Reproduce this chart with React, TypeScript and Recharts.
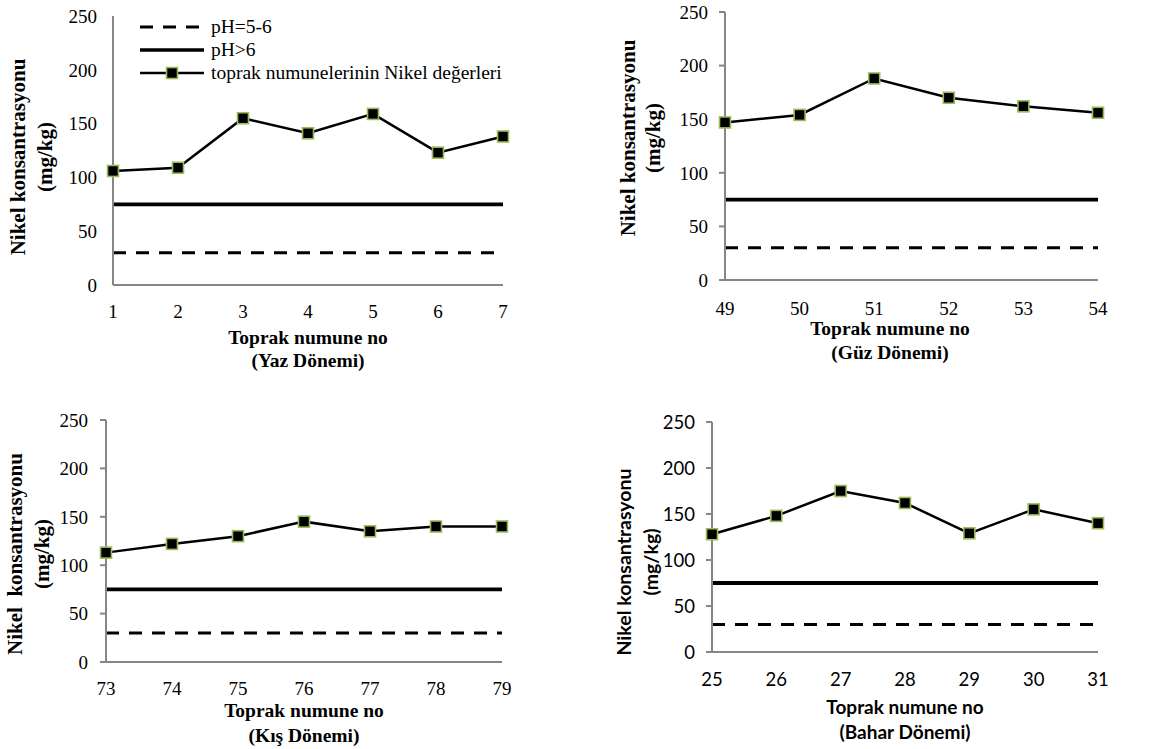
import { LineChart, Line, XAxis, YAxis } from "recharts";

// sample numbers per season
const YAZ_SAMPLES = [1, 2, 3, 4, 5, 6, 7];
const GUZ_SAMPLES = [49, 50, 51, 52, 53, 54];
const KIS_SAMPLES = [73, 74, 75, 76, 77, 78, 79];
const BAHAR_SAMPLES = [25, 26, 27, 28, 29, 30, 31];

// nickel values (mg/kg)
const YAZ_NIKEL = [106, 109, 155, 141, 159, 123, 138];
const GUZ_NIKEL = [147, 154, 188, 170, 162, 156];
const KIS_NIKEL = [113, 122, 130, 145, 135, 140, 140];
const BAHAR_NIKEL = [128, 148, 175, 162, 129, 155, 140];

// limit values
const PH_5_6_LIMIT = 30;
const PH_6_LIMIT = 75;

const Y_TICKS = [0, 50, 100, 150, 200, 250];

const LEGEND_LABELS = ["pH=5-6", "pH>6", "toprak numunelerinin Nikel değerleri"];

const AXIS_GRAY = "#868686";
const MARKER_GREEN = "#9BBB59";
const SERIF = '"Liberation Serif", Tinos, "Times New Roman", Times, "DejaVu Serif", serif';
const SANS = 'Lato, "Liberation Sans", sans-serif';

const buildRows = (samples: number[], values: number[]) =>
  samples.map((no, i) => ({ no, nikel: values[i], ph56: PH_5_6_LIMIT, ph6: PH_6_LIMIT }));

const SquareDot = (p: any) => {
  if (p.cx == null || p.cy == null) return <g key={`dot-${p.index}`} />;
  return (
    <rect
      key={`dot-${p.index}`}
      x={p.cx - 5.5}
      y={p.cy - 5.5}
      width={11}
      height={11}
      fill="#000"
      stroke={MARKER_GREEN}
      strokeWidth={1.6}
    />
  );
};

// legend drawn over the first panel, no space taken from the plot
const LegendBox = () => (
  <div
    style={{
      position: "absolute",
      left: 136,
      top: 15,
      fontFamily: SERIF,
      fontSize: 19.5,
      color: "#000",
      whiteSpace: "nowrap",
    }}
  >
    {LEGEND_LABELS.map((label, i) => (
      <div key={label} style={{ display: "flex", alignItems: "center", height: 23 }}>
        <svg width={72} height={16} style={{ marginRight: 3 }}>
          {i === 0 && <line x1={4} y1={8} x2={68} y2={8} stroke="#000" strokeWidth={3} strokeDasharray="13 10" />}
          {i === 1 && <line x1={4} y1={8} x2={68} y2={8} stroke="#000" strokeWidth={3.5} />}
          {i === 2 && (
            <>
              <line x1={4} y1={8} x2={68} y2={8} stroke="#000" strokeWidth={2.5} />
              <rect x={30.5} y={2.5} width={11} height={11} fill="#000" stroke={MARKER_GREEN} strokeWidth={1.6} />
            </>
          )}
        </svg>
        <span>{label}</span>
      </div>
    ))}
  </div>
);

type PanelCfg = {
  left: number;
  top: number;
  width: number;
  height: number;
  margin: { top: number; right: number; bottom: number; left: number };
  samples: number[];
  values: number[];
  font: string;
  tickFont: number;
  titleFont: number;
  yTitleFont: number;
  yTitle: string;
  yTitleX: [number, number];
  yTitleCY: number;
  xTitle: [string, string];
  xTitleCX: number;
  xTitleY: [number, number];
  yTickLine: boolean;
  yTickMargin: number;
  xTickMargin: number;
  legend?: boolean;
};

const PANELS: PanelCfg[] = [
  {
    left: 0, top: 0, width: 560, height: 375,
    margin: { top: 16, right: 57, bottom: 50, left: 53 },
    samples: YAZ_SAMPLES, values: YAZ_NIKEL,
    font: SERIF, tickFont: 19, titleFont: 19.5, yTitleFont: 21,
    yTitle: "Nikel konsantrasyonu", yTitleX: [18, 45], yTitleCY: 157,
    xTitle: ["Toprak numune no", "(Yaz Dönemi)"], xTitleCX: 308, xTitleY: [344, 367],
    yTickLine: false, yTickMargin: 10, xTickMargin: 20, legend: true,
  },
  {
    left: 590, top: 0, width: 567, height: 375,
    margin: { top: 12, right: 59, bottom: 55, left: 75 },
    samples: GUZ_SAMPLES, values: GUZ_NIKEL,
    font: SERIF, tickFont: 19, titleFont: 19.5, yTitleFont: 21,
    yTitle: "Nikel konsantrasyonu", yTitleX: [38, 63], yTitleCY: 138,
    xTitle: ["Toprak numune no", "(Güz Dönemi)"], xTitleCX: 300, xTitleY: [335, 359],
    yTickLine: true, yTickMargin: 11, xTickMargin: 22,
  },
  {
    left: 0, top: 380, width: 560, height: 369,
    margin: { top: 40, right: 58, bottom: 47, left: 46 },
    samples: KIS_SAMPLES, values: KIS_NIKEL,
    font: SERIF, tickFont: 19, titleFont: 19.5, yTitleFont: 21,
    yTitle: "Nikel  konsantrasyonu", yTitleX: [15, 42], yTitleCY: 174,
    xTitle: ["Toprak numune no", "(Kış Dönemi)"], xTitleCX: 304, xTitleY: [337, 362],
    yTickLine: true, yTickMargin: 12, xTickMargin: 20,
  },
  {
    left: 590, top: 380, width: 567, height: 369,
    margin: { top: 42, right: 59, bottom: 57, left: 62 },
    samples: BAHAR_SAMPLES, values: BAHAR_NIKEL,
    font: SANS, tickFont: 18.5, titleFont: 19, yTitleFont: 19.5,
    yTitle: "Nikel konsantrasyonu", yTitleX: [33, 60], yTitleCY: 182,
    xTitle: ["Toprak numune no", "(Bahar Dönemi)"], xTitleCX: 315, xTitleY: [334, 359],
    yTickLine: true, yTickMargin: 11, xTickMargin: 21,
  },
];

function Panel({ cfg }: { cfg: PanelCfg }) {
  const rows = buildRows(cfg.samples, cfg.values);
  const first = cfg.samples[0];
  const last = cfg.samples[cfg.samples.length - 1];
  const baseStyle = { fontFamily: cfg.font, fontWeight: 700, fill: "#000", whiteSpace: "pre" as const };

  const yTitle = () => {
    const [x1, x2] = cfg.yTitleX;
    const cy = cfg.yTitleCY;
    const st = { ...baseStyle, fontSize: cfg.yTitleFont };
    return (
      <g>
        <text x={x1} y={cy} transform={`rotate(-90, ${x1}, ${cy})`} textAnchor="middle" dominantBaseline="central" style={st}>
          {cfg.yTitle}
        </text>
        <text x={x2} y={cy} transform={`rotate(-90, ${x2}, ${cy})`} textAnchor="middle" dominantBaseline="central" style={st}>
          (mg/kg)
        </text>
      </g>
    );
  };

  const xTitle = () => (
    <g>
      {cfg.xTitle.map((t, i) => (
        <text key={t} x={cfg.xTitleCX} y={cfg.xTitleY[i]} textAnchor="middle" style={{ ...baseStyle, fontSize: cfg.titleFont }}>
          {t}
        </text>
      ))}
    </g>
  );

  return (
    <div style={{ position: "absolute", left: cfg.left, top: cfg.top, width: cfg.width, height: cfg.height }}>
      <LineChart width={cfg.width} height={cfg.height} data={rows} margin={cfg.margin}>
        <XAxis
          dataKey="no"
          type="number"
          domain={[first, last]}
          ticks={cfg.samples}
          interval={0}
          height={40}
          axisLine={{ stroke: AXIS_GRAY, strokeWidth: 2 }}
          tickLine={false}
          tickSize={0}
          tickMargin={cfg.xTickMargin}
          tick={{ fill: "#000", fontSize: cfg.tickFont, fontFamily: cfg.font }}
          label={xTitle}
        />
        <YAxis
          domain={[0, 250]}
          ticks={Y_TICKS}
          interval={0}
          width={60}
          axisLine={{ stroke: AXIS_GRAY, strokeWidth: 2 }}
          tickLine={cfg.yTickLine ? { stroke: AXIS_GRAY, strokeWidth: 2 } : false}
          tickSize={6}
          tickMargin={cfg.yTickMargin}
          tick={{ fill: "#000", fontSize: cfg.tickFont, fontFamily: cfg.font }}
          label={yTitle}
        />
        <Line dataKey="ph56" stroke="#000" strokeWidth={3} strokeDasharray="13 10" dot={false} isAnimationActive={false} />
        <Line dataKey="ph6" stroke="#000" strokeWidth={3.8} dot={false} isAnimationActive={false} />
        <Line dataKey="nikel" stroke="#000" strokeWidth={2.5} dot={SquareDot} activeDot={false} isAnimationActive={false} />
      </LineChart>
      {cfg.legend && <LegendBox />}
    </div>
  );
}

export default function App() {
  return (
    <div style={{ position: "absolute", left: 0, top: 0, width: 1157, height: 749, background: "#fff" }}>
      {PANELS.map((cfg) => (
        <Panel key={cfg.xTitle[1]} cfg={cfg} />
      ))}
    </div>
  );
}
